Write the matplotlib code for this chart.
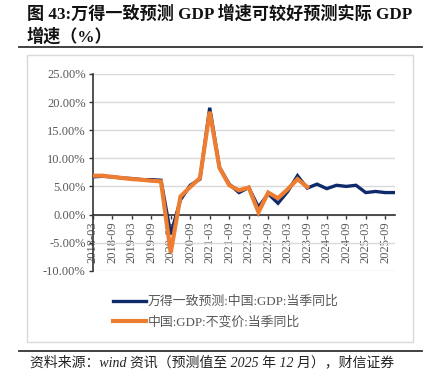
import matplotlib
matplotlib.use("Agg")
import matplotlib.pyplot as plt
from matplotlib.patches import Rectangle
from matplotlib.lines import Line2D
import numpy as np

plt.rcParams['font.family'] = ['Liberation Serif', 'Noto Sans CJK SC', 'DejaVu Sans']

quarters = [f"{y}-{m:02d}" for y in range(2018, 2026) for m in (3, 6, 9, 12)]
tick_labels = quarters[::2]

forecast = [6.7, 6.8, 6.7, 6.5, 6.4, 6.2, 6.2, 6.1,
            -3.5, 2.6, 5.2, 6.3, 19.0, 8.4, 5.4, 3.9,
            4.8, 1.3, 3.7, 2.0, 4.1, 6.9, 4.7, 5.4,
            4.6, 5.2, 5.0, 5.2, 3.9, 4.1, 3.9, 3.9]
actual = [6.9, 6.9, 6.7, 6.5, 6.3, 6.2, 6.0, 5.9,
          -6.8, 3.2, 4.9, 6.5, 18.3, 8.3, 5.2, 4.3,
          4.8, 0.4, 3.9, 2.9, 4.5, 6.3, 4.9]

W, H = 430, 389
fig = plt.figure(figsize=(W / 100, H / 100), dpi=100)

def fx(px):
    return px / W

def fy(py):
    return 1 - py / H

# frame box
fig.patches.append(Rectangle((fx(26.7), fy(341.7)), fx(413) - fx(26.7), fy(55.3) - fy(341.7),
                             transform=fig.transFigure, fill=False, edgecolor='#d9d9d9', lw=1.0))
# dark rules
fig.add_artist(Line2D([fx(19), fx(422)], [fy(47.3), fy(47.3)], transform=fig.transFigure,
                      color='#333333', lw=1.3))
fig.add_artist(Line2D([fx(19), fx(422)], [fy(350.7), fy(350.7)], transform=fig.transFigure,
                      color='#333333', lw=1.3))

# title
fig.text(fx(27), fy(14), "图 43:万得一致预测 GDP 增速可较好预测实际 GDP", fontsize=12.3,
         fontweight='bold', ha='left', va='center', color='#111111')
fig.text(fx(27), fy(37), "增速（%）", fontsize=12.3, fontweight='bold', ha='left', va='center',
         color='#111111')

# source
fig.text(fx(30), fy(362), "资料来源：wind 资讯（预测值至 2025 年 12 月），财信证券", fontsize=10.0,
         style='italic', ha='left', va='center', color='#222222')

ax = fig.add_axes([fx(92.7), fy(270.7), fx(395) - fx(92.7), fy(74) - fy(270.7)])
ax.spines['bottom'].set_position(('data', 0))
x_all = np.arange(len(quarters))
ax.plot(x_all, forecast, color='#0f2a6b', lw=2.4, solid_joinstyle='miter',
        label='万得一致预测:中国:GDP:当季同比', zorder=3)
ax.plot(x_all[:len(actual)], actual, color='#ed7d31', lw=3.0, solid_joinstyle='miter',
        label='中国:GDP:不变价:当季同比', zorder=4)

ax.set_xlim(0, len(quarters) - 1)
ax.set_ylim(-10, 25)
ax.set_yticks(np.arange(-10, 26, 5))
ax.set_yticklabels([f"{v:.2f}%" for v in np.arange(-10, 26, 5)], fontsize=9, color='#595959')
ax.set_xticks(x_all[::2])
ax.set_xticklabels(tick_labels, fontsize=9, color='#595959')
ax.tick_params(axis='x', labelrotation=90)
ax.spines['bottom'].set_color('#333333')
ax.spines['bottom'].set_linewidth(1.2)
ax.spines['left'].set_color('#333333')
ax.spines['left'].set_linewidth(1.2)
ax.spines['top'].set_visible(False)
ax.spines['right'].set_visible(False)
ax.tick_params(axis='x', direction='out', length=3, width=1, color='#333333', pad=2)
ax.tick_params(axis='y', direction='out', length=3, width=1, color='#333333', pad=2)
ax.grid(axis='y', color='#d9d9d9', lw=1.0)
ax.set_axisbelow(True)
ax.patch.set_alpha(0)

h, l = ax.get_legend_handles_labels()
leg = fig.legend(h, l, loc='center', bbox_to_anchor=(fx(226), fy(312)), frameon=False,
                 fontsize=9.3, handlelength=2.5, handletextpad=0.15, labelspacing=0.55,
                 labelcolor='#595959')

fig.savefig('out.png', dpi=100)
